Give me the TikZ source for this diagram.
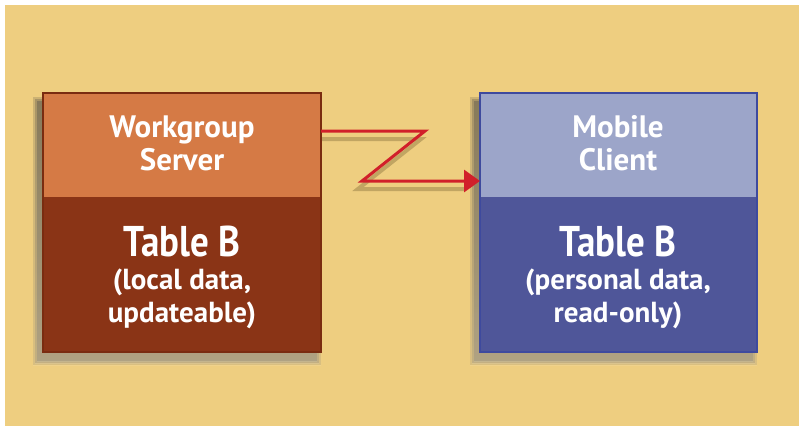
\documentclass[tikz,border=0pt]{standalone}
\usepackage{fontspec}
\setmainfont{PT Sans}
\newfontfamily\cf{PT Sans}
\newfontfamily\cfn[FakeStretch=0.86]{PT Sans}
\usetikzlibrary{arrows.meta,calc}
\definecolor{bg}{HTML}{EECE80}
\definecolor{shade}{HTML}{6E5A2C}
\definecolor{orT}{HTML}{D57A45}
\definecolor{orB}{HTML}{8A3416}
\definecolor{orL}{HTML}{7A2C10}
\definecolor{blT}{HTML}{9CA5C9}
\definecolor{blB}{HTML}{4F5699}
\definecolor{blL}{HTML}{3E4A9E}
\definecolor{arr}{HTML}{D1202A}
\tikzset{
  part/.style={minimum width=278pt, anchor=north west, inner sep=0pt, outer sep=0pt},
  titletext/.style={text=white, align=center, font=\cf\bfseries\fontsize{31}{33}\selectfont},
  bigtext/.style={text=white, align=center, font=\cfn\bfseries\fontsize{43}{44}\selectfont},
  subtext/.style={text=white, align=center, font=\cf\bfseries\fontsize{29}{33}\selectfont},
  frame/.style={draw, line width=2pt},
  conn/.style={draw=arr, line width=3pt, -{Triangle[length=16pt,width=22pt]}},
  connshadow/.style={draw=shade, line width=4pt, opacity=0.35},
}
\begin{document}
\begin{tikzpicture}[x=1pt,y=-1pt]
\useasboundingbox (0,0) rectangle (799,436);
\fill[white] (0,0) rectangle (799,436);
\fill[bg] (5,5) rectangle (799,426);
% box shadows
\foreach \d/\o in {0/0.18,2/0.14,4/0.10}{
  \fill[shade, opacity=\o] (37-\d,101-\d) rectangle (317+\d,361+\d);
  \fill[shade, opacity=\o] (474-\d,101-\d) rectangle (753+\d,361+\d);
}
% connector shadow (drawn before the boxes)
\coordinate (c1) at (425,131);
\coordinate (c2) at (362,181);
\coordinate (s0) at (310,139);
\coordinate (s1) at (421,139);
\coordinate (s2) at (358,189);
\coordinate (s3) at (466,189);
\draw[connshadow] (s0) -- (s1) -- (s2) -- (s3);
% left box
\node[part, fill=orT, minimum height=104pt] (lt) at (43,93) {};
\node[part, fill=orB, minimum height=155pt] (lb) at (43,197) {};
\draw[frame, draw=orL] (lt.north west) rectangle (lb.south east);
\node[titletext] (ltt) at (182,143) {Workgroup\\Server};
\node[bigtext] (lbt) at (182,242) {Table B};
\node[subtext] (lbs) at (182,299) {(local data,\\updateable)};
% right box
\node[part, fill=blT, minimum height=104pt, minimum width=277pt] (rt) at (480,93) {};
\node[part, fill=blB, minimum height=155pt, minimum width=277pt] (rb) at (480,197) {};
\draw[frame, draw=blL] (rt.north west) rectangle (rb.south east);
\node[titletext] (rtt) at (618,143) {Mobile\\Client};
\node[bigtext] (rbt) at (618,242) {Table B};
\node[subtext] (rbs) at (618,299) {(personal data,\\read-only)};
% connector
\draw[conn] (lt.east |- c1) -- (c1) -- (c2) -- (rt.west |- c2);
\end{tikzpicture}
\end{document}
